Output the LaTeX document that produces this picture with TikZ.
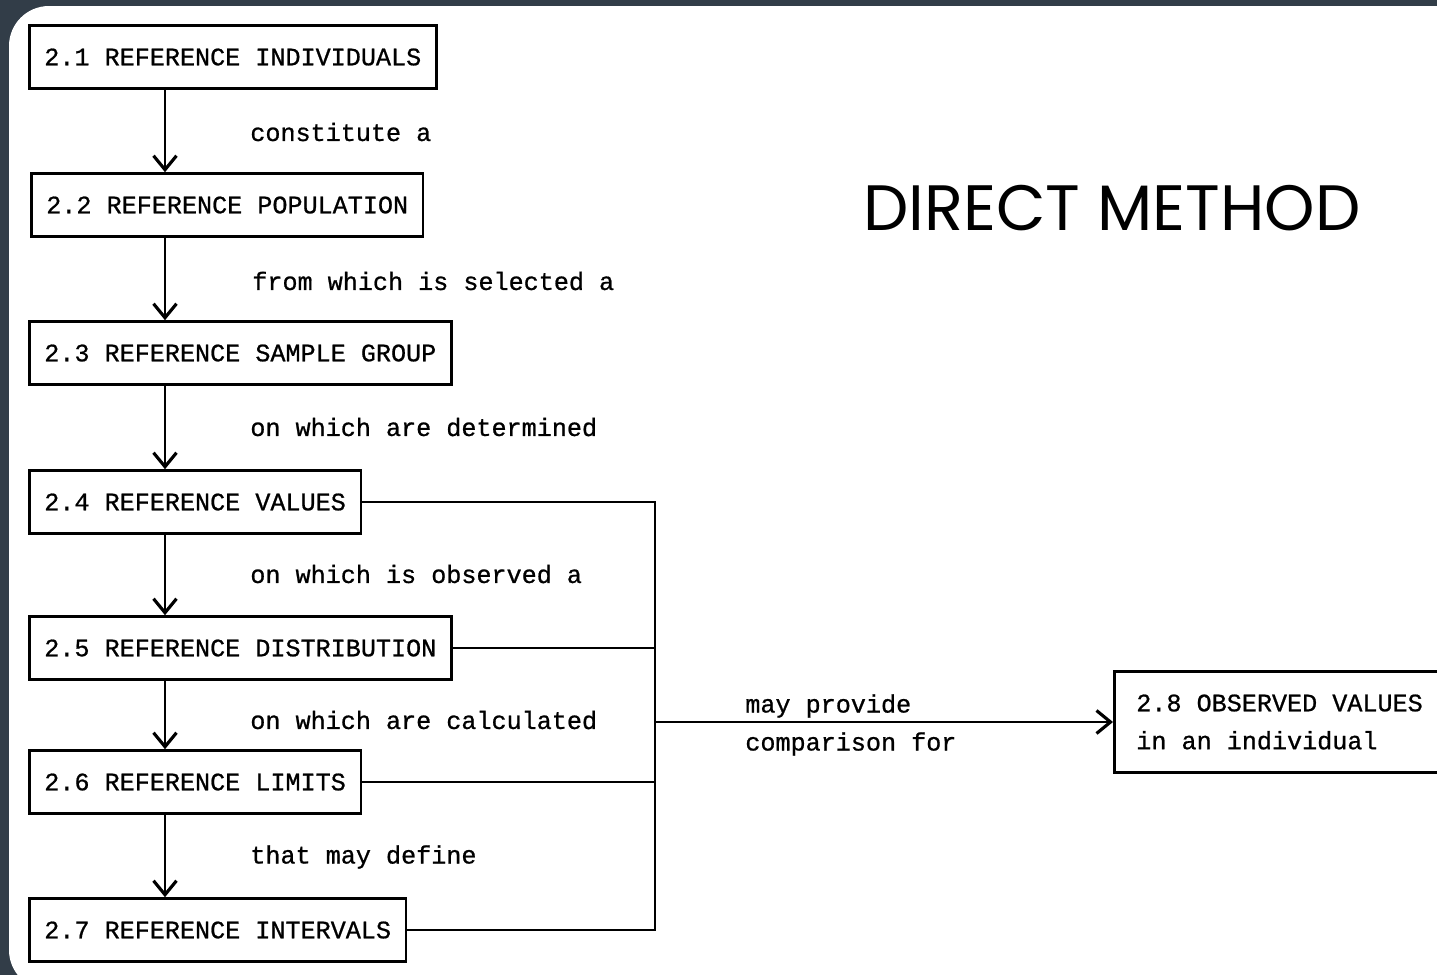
\documentclass[tikz,border=0pt]{standalone}
\usepackage{fontspec}
\setmonofont[FakeBold=0.8]{Liberation Mono}
\newfontfamily\titlefont{Poppins}
\usetikzlibrary{arrows.meta,positioning}
\definecolor{framebg}{RGB}{50,61,72}

\begin{document}
\begin{tikzpicture}[x=0.02cm, y=-0.02cm,
    refbox/.style={rectangle, draw, line width=1.5pt, minimum height=1.26cm, inner xsep=0.3cm, font=\ttfamily\fontsize{14.3}{21.6}\selectfont, anchor=west},
    lbl/.style={font=\ttfamily\fontsize{14.3}{17}\selectfont, anchor=west, inner sep=0pt},
    arr/.style={-{Straight Barb[length=2.8mm,width=4.6mm,line width=1.8pt]}, line width=1.3pt},
    bus/.style={line width=1.3pt}
]
\useasboundingbox (0,0) rectangle (1437,975);

% Frame
\fill[framebg] (0,0) rectangle (1437,975);
\fill[white, rounded corners=0.8cm] (9,6) rectangle (1480,990);

% Chain of reference boxes
\node[refbox] (b1) at (28,57) {2.1 REFERENCE INDIVIDUALS};
\node[refbox] (b2) at (30,205) {2.2 REFERENCE POPULATION};
\node[refbox] (b3) at (28,353) {2.3 REFERENCE SAMPLE GROUP};
\node[refbox] (b4) at (28,502) {2.4 REFERENCE VALUES};
\node[refbox] (b5) at (28,648) {2.5 REFERENCE DISTRIBUTION};
\node[refbox] (b6) at (28,782) {2.6 REFERENCE LIMITS};
\node[refbox] (b7) at (28,930) {2.7 REFERENCE INTERVALS};

\node[refbox, minimum height=2.02cm, inner xsep=0.44cm, align=left] (b8) at (1113,722) {2.8 OBSERVED VALUES\\in an individual\phantom{000}};

\node[font=\titlefont\fontsize{36.5}{44}\selectfont] (title) at (1112,208) {DIRECT METHOD};

\coordinate (ax) at (165,0);
\coordinate (bus) at (655,0);

% Arrows down the chain
\draw[arr] (b1.south -| ax) -- (b2.north -| ax);
\draw[arr] (b2.south -| ax) -- (b3.north -| ax);
\draw[arr] (b3.south -| ax) -- (b4.north -| ax);
\draw[arr] (b4.south -| ax) -- (b5.north -| ax);
\draw[arr] (b5.south -| ax) -- (b6.north -| ax);
\draw[arr] (b6.south -| ax) -- (b7.north -| ax);

\node[lbl] (l1) at (250,132) {constitute a};
\node[lbl] (l2) at (252,281) {from which is selected a};
\node[lbl] (l3) at (250,427) {on which are determined};
\node[lbl] (l4) at (250,574) {on which is observed a};
\node[lbl] (l5) at (250,720) {on which are calculated};
\node[lbl] (l6) at (250,857) {that may define};

% Bus to 2.8
\draw[bus] (b4.east) -- (b4.east -| bus) -- (b7.east -| bus) -- (b7.east);
\draw[bus] (b5.east) -- (b5.east -| bus);
\draw[bus] (b6.east) -- (b6.east -| bus);
\draw[arr] (b8.west -| bus) -- (b8.west);

\node[lbl] (l7) at (745,706) {may provide};
\node[lbl] (l8) at (745,744) {comparison for};

\end{tikzpicture}
\end{document}
